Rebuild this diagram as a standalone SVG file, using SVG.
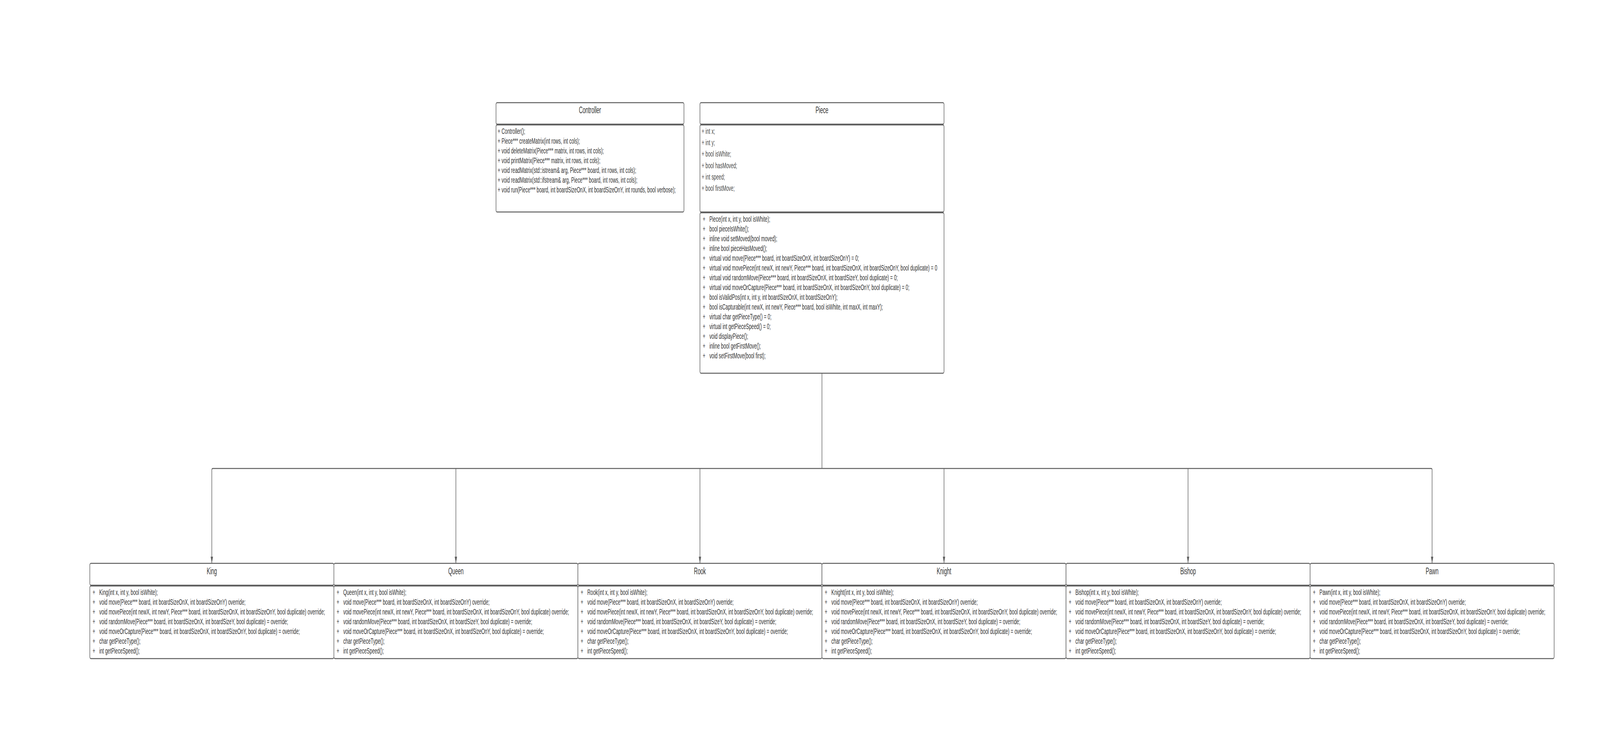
<svg xmlns="http://www.w3.org/2000/svg" width="7500" height="1875" viewBox="0 0 7500 1875" preserveAspectRatio="none" style="width:100%;height:100%">
<defs>
<style>
.box{fill:#ffffff;stroke:#5e5e5e;stroke-width:2.5}
.t{font-family:"Liberation Sans",Arial,sans-serif;fill:#333333}
.title{font-size:24px;text-anchor:middle}
.b{font-size:21px}
.a{fill:#4a4a4a}
.c{fill:none;stroke:#5e5e5e;stroke-width:2.5}
</style>
<marker id="arr" markerUnits="userSpaceOnUse" markerWidth="18" markerHeight="12" refX="17" refY="6" orient="auto">
<path d="M0,0.5 L17,6 L0,11.5 z" fill="#5e5e5e"/>
</marker>
</defs>
<rect x="0" y="0" width="7500" height="1875" fill="#ffffff"/>

<g id="connectors">
<path class="c" d="M3853 956 L3853 1200"/>
<path class="c" marker-end="url(#arr)" d="M3853 1200 L997 1200 Q993 1200 993 1204 L993 1443"/>
<path class="c" marker-end="url(#arr)" d="M2137 1200 L2137 1443"/>
<path class="c" marker-end="url(#arr)" d="M3281 1200 L3281 1443"/>
<path class="c" marker-end="url(#arr)" d="M4425 1200 L4425 1443"/>
<path class="c" marker-end="url(#arr)" d="M5569 1200 L5569 1443"/>
<path class="c" marker-end="url(#arr)" d="M3853 1200 L6709 1200 Q6713 1200 6713 1204 L6713 1443"/>
</g>

<g id="controller">
<rect class="box" x="2325" y="263" width="881" height="55" rx="5"/>
<rect class="box" x="2325" y="320" width="881" height="223" rx="5"/>
<text class="t title" x="2765.5" y="290">Controller</text>
<text class="t b" x="2333" y="343">+ Controller();</text>
<text class="t b" x="2333" y="368">+ Piece*** createMatrix(int rows, int cols);</text>
<text class="t b" x="2333" y="393">+ void deleteMatrix(Piece*** matrix, int rows, int cols);</text>
<text class="t b" x="2333" y="418">+ void printMatrix(Piece*** matrix, int rows, int cols);</text>
<text class="t b" x="2333" y="443">+ void readMatrix(std::istream&amp; arg, Piece*** board, int rows, int cols);</text>
<text class="t b" x="2333" y="468">+ void readMatrix(std::ifstream&amp; arg, Piece*** board, int rows, int cols);</text>
<text class="t b" x="2333" y="493">+ void run(Piece*** board, int boardSizeOnX, int boardSizeOnY, int rounds, bool verbose);</text>
</g>

<g id="piece">
<rect class="box" x="3281" y="263" width="1144" height="55" rx="5"/>
<rect class="box" x="3281" y="320" width="1144" height="223" rx="5"/>
<rect class="box" x="3281" y="545" width="1144" height="411" rx="5"/>
<text class="t title" x="3853" y="290">Piece</text>
<text class="t b a" x="3289" y="343">+ int x;</text>
<text class="t b a" x="3289" y="372">+ int y;</text>
<text class="t b a" x="3289" y="401">+ bool isWhite;</text>
<text class="t b a" x="3289" y="431">+ bool hasMoved;</text>
<text class="t b a" x="3289" y="460">+ int speed;</text>
<text class="t b a" x="3289" y="489">+ bool firstMove;</text>
<text class="t b" x="3294" y="568">+<tspan x="3294" dy="25">+</tspan><tspan x="3294" dy="25">+</tspan><tspan x="3294" dy="25">+</tspan><tspan x="3294" dy="25">+</tspan><tspan x="3294" dy="25">+</tspan><tspan x="3294" dy="25">+</tspan><tspan x="3294" dy="25">+</tspan><tspan x="3294" dy="25">+</tspan><tspan x="3294" dy="25">+</tspan><tspan x="3294" dy="25">+</tspan><tspan x="3294" dy="25">+</tspan><tspan x="3294" dy="25">+</tspan><tspan x="3294" dy="25">+</tspan><tspan x="3294" dy="25">+</tspan></text>
<text class="t b" x="3325" y="568">Piece(int x, int y, bool isWhite);<tspan x="3325" dy="25">bool pieceIsWhite();</tspan><tspan x="3325" dy="25">inline void setMoved(bool moved);</tspan><tspan x="3325" dy="25">inline bool pieceHasMoved();</tspan><tspan x="3325" dy="25">virtual void move(Piece*** board, int boardSizeOnX, int boardSizeOnY) = 0;</tspan><tspan x="3325" dy="25">virtual void movePiece(int newX, int newY, Piece*** board, int boardSizeOnX, int boardSizeOnY, bool duplicate) = 0</tspan><tspan x="3325" dy="25">virtual void randomMove(Piece*** board, int boardSizeOnX, int boardSizeY, bool duplicate) = 0;</tspan><tspan x="3325" dy="25">virtual void moveOrCapture(Piece*** board, int boardSizeOnX, int boardSizeOnY, bool duplicate) = 0;</tspan><tspan x="3325" dy="25">bool isValidPos(int x, int y, int boardSizeOnX, int boardSizeOnY);</tspan><tspan x="3325" dy="25">bool isCapturable(int newX, int newY, Piece*** board, bool isWhite, int maxX, int maxY);</tspan><tspan x="3325" dy="25">virtual char getPieceType() = 0;</tspan><tspan x="3325" dy="25">virtual int getPieceSpeed() = 0;</tspan><tspan x="3325" dy="25">void displayPiece();</tspan><tspan x="3325" dy="25">inline bool getFirstMove();</tspan><tspan x="3325" dy="25">void setFirstMove(bool first);</tspan></text>
</g>

<g id="king">
<rect class="box" x="421" y="1443" width="1144" height="56" rx="5"/>
<rect class="box" x="421" y="1501" width="1144" height="186" rx="5"/>
<text class="t title" x="993" y="1471">King</text>
<text class="t b" x="434" y="1524">+<tspan x="434" dy="25">+</tspan><tspan x="434" dy="25">+</tspan><tspan x="434" dy="25">+</tspan><tspan x="434" dy="25">+</tspan><tspan x="434" dy="25">+</tspan><tspan x="434" dy="25">+</tspan></text>
<text class="t b" x="465" y="1524">King(int x, int y, bool isWhite);<tspan x="465" dy="25">void move(Piece*** board, int boardSizeOnX, int boardSizeOnY) override;</tspan><tspan x="465" dy="25">void movePiece(int newX, int newY, Piece*** board, int boardSizeOnX, int boardSizeOnY, bool duplicate) override;</tspan><tspan x="465" dy="25">void randomMove(Piece*** board, int boardSizeOnX, int boardSizeY, bool duplicate) = override;</tspan><tspan x="465" dy="25">void moveOrCapture(Piece*** board, int boardSizeOnX, int boardSizeOnY, bool duplicate) = override;</tspan><tspan x="465" dy="25">char getPieceType();</tspan><tspan x="465" dy="25">int getPieceSpeed();</tspan></text>
</g>

<g id="queen">
<rect class="box" x="1565" y="1443" width="1144" height="56" rx="5"/>
<rect class="box" x="1565" y="1501" width="1144" height="186" rx="5"/>
<text class="t title" x="2137" y="1471">Queen</text>
<text class="t b" x="1578" y="1524">+<tspan x="1578" dy="25">+</tspan><tspan x="1578" dy="25">+</tspan><tspan x="1578" dy="25">+</tspan><tspan x="1578" dy="25">+</tspan><tspan x="1578" dy="25">+</tspan><tspan x="1578" dy="25">+</tspan></text>
<text class="t b" x="1609" y="1524">Queen(int x, int y, bool isWhite);<tspan x="1609" dy="25">void move(Piece*** board, int boardSizeOnX, int boardSizeOnY) override;</tspan><tspan x="1609" dy="25">void movePiece(int newX, int newY, Piece*** board, int boardSizeOnX, int boardSizeOnY, bool duplicate) override;</tspan><tspan x="1609" dy="25">void randomMove(Piece*** board, int boardSizeOnX, int boardSizeY, bool duplicate) = override;</tspan><tspan x="1609" dy="25">void moveOrCapture(Piece*** board, int boardSizeOnX, int boardSizeOnY, bool duplicate) = override;</tspan><tspan x="1609" dy="25">char getPieceType();</tspan><tspan x="1609" dy="25">int getPieceSpeed();</tspan></text>
</g>

<g id="rook">
<rect class="box" x="2709" y="1443" width="1144" height="56" rx="5"/>
<rect class="box" x="2709" y="1501" width="1144" height="186" rx="5"/>
<text class="t title" x="3281" y="1471">Rook</text>
<text class="t b" x="2722" y="1524">+<tspan x="2722" dy="25">+</tspan><tspan x="2722" dy="25">+</tspan><tspan x="2722" dy="25">+</tspan><tspan x="2722" dy="25">+</tspan><tspan x="2722" dy="25">+</tspan><tspan x="2722" dy="25">+</tspan></text>
<text class="t b" x="2753" y="1524">Rook(int x, int y, bool isWhite);<tspan x="2753" dy="25">void move(Piece*** board, int boardSizeOnX, int boardSizeOnY) override;</tspan><tspan x="2753" dy="25">void movePiece(int newX, int newY, Piece*** board, int boardSizeOnX, int boardSizeOnY, bool duplicate) override;</tspan><tspan x="2753" dy="25">void randomMove(Piece*** board, int boardSizeOnX, int boardSizeY, bool duplicate) = override;</tspan><tspan x="2753" dy="25">void moveOrCapture(Piece*** board, int boardSizeOnX, int boardSizeOnY, bool duplicate) = override;</tspan><tspan x="2753" dy="25">char getPieceType();</tspan><tspan x="2753" dy="25">int getPieceSpeed();</tspan></text>
</g>

<g id="knight">
<rect class="box" x="3853" y="1443" width="1144" height="56" rx="5"/>
<rect class="box" x="3853" y="1501" width="1144" height="186" rx="5"/>
<text class="t title" x="4425" y="1471">Knight</text>
<text class="t b" x="3866" y="1524">+<tspan x="3866" dy="25">+</tspan><tspan x="3866" dy="25">+</tspan><tspan x="3866" dy="25">+</tspan><tspan x="3866" dy="25">+</tspan><tspan x="3866" dy="25">+</tspan><tspan x="3866" dy="25">+</tspan></text>
<text class="t b" x="3897" y="1524">Knight(int x, int y, bool isWhite);<tspan x="3897" dy="25">void move(Piece*** board, int boardSizeOnX, int boardSizeOnY) override;</tspan><tspan x="3897" dy="25">void movePiece(int newX, int newY, Piece*** board, int boardSizeOnX, int boardSizeOnY, bool duplicate) override;</tspan><tspan x="3897" dy="25">void randomMove(Piece*** board, int boardSizeOnX, int boardSizeY, bool duplicate) = override;</tspan><tspan x="3897" dy="25">void moveOrCapture(Piece*** board, int boardSizeOnX, int boardSizeOnY, bool duplicate) = override;</tspan><tspan x="3897" dy="25">char getPieceType();</tspan><tspan x="3897" dy="25">int getPieceSpeed();</tspan></text>
</g>

<g id="bishop">
<rect class="box" x="4997" y="1443" width="1144" height="56" rx="5"/>
<rect class="box" x="4997" y="1501" width="1144" height="186" rx="5"/>
<text class="t title" x="5569" y="1471">Bishop</text>
<text class="t b" x="5010" y="1524">+<tspan x="5010" dy="25">+</tspan><tspan x="5010" dy="25">+</tspan><tspan x="5010" dy="25">+</tspan><tspan x="5010" dy="25">+</tspan><tspan x="5010" dy="25">+</tspan><tspan x="5010" dy="25">+</tspan></text>
<text class="t b" x="5041" y="1524">Bishop(int x, int y, bool isWhite);<tspan x="5041" dy="25">void move(Piece*** board, int boardSizeOnX, int boardSizeOnY) override;</tspan><tspan x="5041" dy="25">void movePiece(int newX, int newY, Piece*** board, int boardSizeOnX, int boardSizeOnY, bool duplicate) override;</tspan><tspan x="5041" dy="25">void randomMove(Piece*** board, int boardSizeOnX, int boardSizeY, bool duplicate) = override;</tspan><tspan x="5041" dy="25">void moveOrCapture(Piece*** board, int boardSizeOnX, int boardSizeOnY, bool duplicate) = override;</tspan><tspan x="5041" dy="25">char getPieceType();</tspan><tspan x="5041" dy="25">int getPieceSpeed();</tspan></text>
</g>

<g id="pawn">
<rect class="box" x="6141" y="1443" width="1144" height="56" rx="5"/>
<rect class="box" x="6141" y="1501" width="1144" height="186" rx="5"/>
<text class="t title" x="6713" y="1471">Pawn</text>
<text class="t b" x="6154" y="1524">+<tspan x="6154" dy="25">+</tspan><tspan x="6154" dy="25">+</tspan><tspan x="6154" dy="25">+</tspan><tspan x="6154" dy="25">+</tspan><tspan x="6154" dy="25">+</tspan><tspan x="6154" dy="25">+</tspan></text>
<text class="t b" x="6185" y="1524">Pawn(int x, int y, bool isWhite);<tspan x="6185" dy="25">void move(Piece*** board, int boardSizeOnX, int boardSizeOnY) override;</tspan><tspan x="6185" dy="25">void movePiece(int newX, int newY, Piece*** board, int boardSizeOnX, int boardSizeOnY, bool duplicate) override;</tspan><tspan x="6185" dy="25">void randomMove(Piece*** board, int boardSizeOnX, int boardSizeY, bool duplicate) = override;</tspan><tspan x="6185" dy="25">void moveOrCapture(Piece*** board, int boardSizeOnX, int boardSizeOnY, bool duplicate) = override;</tspan><tspan x="6185" dy="25">char getPieceType();</tspan><tspan x="6185" dy="25">int getPieceSpeed();</tspan></text>
</g>
</svg>
